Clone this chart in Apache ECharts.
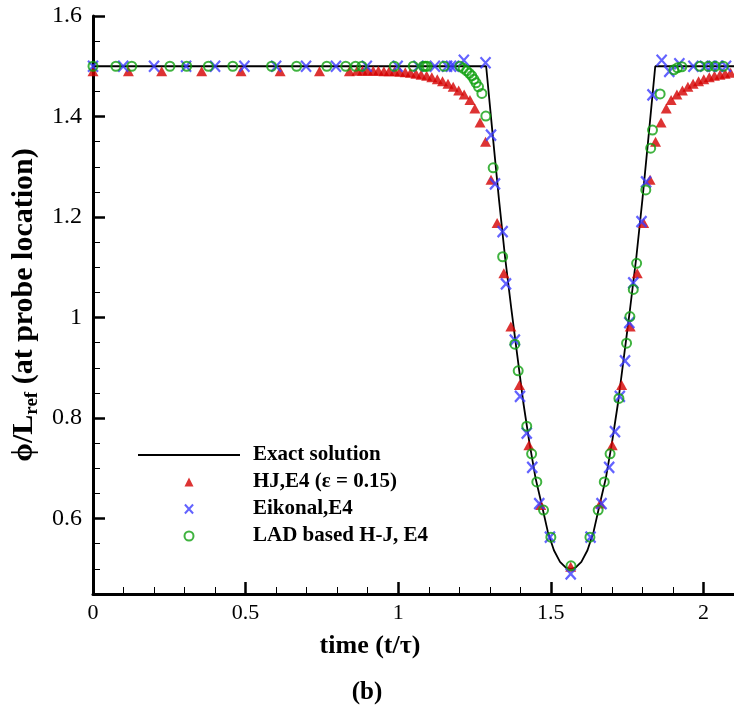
<!DOCTYPE html>
<html>
<head>
<meta charset="utf-8">
<script src="https://cdn.jsdelivr.net/npm/echarts@6/dist/echarts.min.js"></script>
<style>
html,body{margin:0;padding:0;background:#fff;}
#chart{width:734px;height:709px;}
</style>
</head>
<body>
<div id="chart"></div>
<script>
// ---- data ----
const xTickLabels = [0, 0.5, 1, 1.5, 2];
const yTickLabels = [0.6, 0.8, 1, 1.2, 1.4, 1.6];

const exactSolution = [
  [0,1.5],[1.288,1.5],[1.31,1.36],[1.33,1.235],[1.35,1.12],[1.37,1.02],[1.39,0.925],
  [1.41,0.83],[1.43,0.75],[1.45,0.68],[1.47,0.628],[1.49,0.574],[1.51,0.537],[1.53,0.514],
  [1.55,0.502],[1.565,0.5],[1.58,0.502],[1.60,0.514],[1.62,0.537],[1.64,0.574],[1.66,0.628],
  [1.68,0.68],[1.70,0.75],[1.72,0.83],[1.74,0.925],[1.76,1.02],[1.78,1.12],[1.80,1.235],
  [1.82,1.36],[1.842,1.5],[2.1,1.5]
];

const hjE4 = [
  [0,1.49],[0.116,1.49],[0.225,1.49],[0.356,1.49],[0.485,1.49],[0.613,1.49],[0.742,1.49],[0.84,1.49],
  [0.865,1.491],[0.883,1.491],[0.9,1.491],[0.918,1.491],[0.935,1.491],[0.953,1.49],[0.97,1.49],
  [0.988,1.49],[1.005,1.489],[1.023,1.488],[1.04,1.487],[1.058,1.485],[1.075,1.483],[1.093,1.481],
  [1.11,1.478],[1.128,1.474],[1.145,1.47],[1.163,1.465],[1.18,1.459],[1.198,1.452],[1.216,1.444],
  [1.235,1.433],[1.251,1.416],[1.268,1.388],[1.286,1.35],[1.304,1.274],[1.324,1.188],[1.346,1.088],
  [1.369,0.982],[1.397,0.866],[1.428,0.746],[1.467,0.627],[1.565,0.504],[1.662,0.63],[1.701,0.746],
  [1.732,0.866],[1.76,0.982],[1.783,1.088],[1.804,1.188],[1.825,1.274],[1.843,1.35],[1.861,1.388],
  [1.878,1.416],[1.894,1.433],[1.913,1.444],[1.931,1.452],[1.949,1.459],[1.966,1.465],[1.984,1.47],
  [2.001,1.474],[2.019,1.478],[2.036,1.481],[2.054,1.483],[2.071,1.485],[2.089,1.487]
];

const eikonalE4 = [
  [0,1.5],[0.099,1.5],[0.2,1.5],[0.305,1.5],[0.4,1.5],[0.496,1.5],[0.6,1.5],[0.698,1.5],[0.796,1.5],
  [0.897,1.5],[0.998,1.5],[1.066,1.5],[1.12,1.5],[1.16,1.5],[1.173,1.5],[1.183,1.5],[1.215,1.512],
  [1.286,1.507],[1.304,1.363],[1.317,1.266],[1.342,1.171],[1.353,1.067],[1.382,0.955],[1.399,0.843],
  [1.421,0.770],[1.439,0.702],[1.462,0.630],[1.497,0.563],[1.565,0.490],[1.630,0.563],[1.666,0.630],
  [1.691,0.702],[1.71,0.773],[1.726,0.843],[1.743,0.914],[1.757,0.99],[1.770,1.069],[1.797,1.191],
  [1.812,1.270],[1.833,1.443],[1.863,1.512],[1.888,1.49],[1.921,1.505],[1.967,1.5],[2.005,1.5],
  [2.027,1.5],[2.049,1.5],[2.074,1.5]
];

const ladE4 = [
  [0,1.5],[0.075,1.5],[0.127,1.5],[0.252,1.5],[0.307,1.5],[0.378,1.5],[0.458,1.5],[0.585,1.5],
  [0.667,1.5],[0.766,1.5],[0.828,1.5],[0.86,1.5],[0.881,1.5],[0.987,1.5],[1.049,1.5],[1.082,1.5],
  [1.089,1.5],[1.095,1.5],[1.15,1.5],[1.202,1.5],[1.213,1.496],[1.224,1.491],[1.233,1.486],
  [1.241,1.481],[1.248,1.474],[1.255,1.467],[1.263,1.459],[1.274,1.446],[1.287,1.401],[1.311,1.298],
  [1.342,1.121],[1.382,0.947],[1.393,0.894],[1.421,0.784],[1.437,0.729],[1.454,0.673],[1.476,0.617],
  [1.500,0.563],[1.566,0.506],[1.628,0.563],[1.655,0.617],[1.675,0.673],[1.694,0.729],[1.723,0.839],
  [1.748,0.949],[1.759,1.002],[1.770,1.056],[1.781,1.108],[1.811,1.254],[1.827,1.337],[1.833,1.373],
  [1.858,1.445],[1.903,1.493],[1.915,1.497],[1.929,1.499],[1.989,1.5],[2.016,1.5],[2.038,1.5],[2.065,1.5]
];

// ---- chart ----
const FONT = 'Liberation Serif';
const RED = '#d40000', BLUE = '#3c3cff', GREEN = '#10a010';
const TRI = 'path://M5,0L10,10L0,10Z';
const CROSS = 'path://M0,0L10,11M10,0L0,11';
const chart = echarts.init(document.getElementById('chart'), null, {renderer: 'canvas'});

const option = {
  backgroundColor: '#fff',
  animation: false,
  grid: {left: 93, right: 0, top: 16, bottom: 115, containLabel: false, outerBoundsMode: 'none'},
  title: [
    {text: 'time (t/τ)', left: 370, top: 633, textAlign: 'center', padding: 0,
     textStyle: {fontFamily: FONT, fontWeight: 'bold', fontSize: 26, color: '#000'}},
    {text: '(b)', left: 367, top: 680, textAlign: 'center', padding: 0,
     textStyle: {fontFamily: FONT, fontWeight: 'bold', fontSize: 25, color: '#000'}}
  ],
  legend: {
    orient: 'vertical', left: 133, top: 439,
    itemWidth: 102, itemHeight: 9, itemGap: 5,
    data: [
      {name: 'Exact solution', icon: 'path://M0,0L102,0L102,2L0,2Z', itemStyle: {color: '#000'}},
      {name: 'HJ,E4 (ε = 0.15)', icon: TRI},
      {name: 'Eikonal,E4', icon: CROSS},
      {name: 'LAD based H-J, E4'}
    ],
    textStyle: {fontFamily: FONT, fontWeight: 'bold', fontSize: 21, color: '#000',
                lineHeight: 22, padding: [0, 0, 0, 8]}
  },
  xAxis: [
    {type: 'value', min: 0, max: 2.1, position: 'bottom',
     axisLine: {show: true, lineStyle: {color: '#000', width: 3}},
     axisTick: {show: true, inside: true, length: 12, customValues: xTickLabels,
                lineStyle: {color: '#000', width: 2.5}},
     axisLabel: {show: true, customValues: xTickLabels, margin: 8,
                 fontFamily: FONT, fontSize: 22, color: '#000'},
     splitLine: {show: false}},
    {type: 'value', min: 0, max: 2.1, interval: 0.1, position: 'bottom',
     axisLine: {show: false},
     axisTick: {show: true, inside: true, length: 7, lineStyle: {color: '#000', width: 1}},
     axisLabel: {show: false}, splitLine: {show: false}}
  ],
  yAxis: [
    {type: 'value', min: 0.45, max: 1.6, position: 'left',
     name: '{a|ϕ/L}{s|ref}{a| (at probe location)}',
     nameLocation: 'middle', nameRotate: 90, nameGap: 48,
     nameTextStyle: {
       rich: {
         a: {fontFamily: FONT, fontWeight: 'bold', fontSize: 30, color: '#000', lineHeight: 34},
         s: {fontFamily: FONT, fontWeight: 'bold', fontSize: 19, color: '#000', lineHeight: 34,
             verticalAlign: 'bottom', padding: [12, 0, 0, 0]}
       }
     },
     axisLine: {show: true, lineStyle: {color: '#000', width: 3}},
     axisTick: {show: true, inside: true, length: 12, customValues: yTickLabels,
                lineStyle: {color: '#000', width: 2.5}},
     axisLabel: {show: true, customValues: yTickLabels, margin: 11,
                 fontFamily: FONT, fontSize: 24, color: '#000'},
     splitLine: {show: false}},
    {type: 'value', min: 0.45, max: 1.6, interval: 0.05, position: 'left',
     axisLine: {show: false},
     axisTick: {show: true, inside: true, length: 7, lineStyle: {color: '#000', width: 1}},
     axisLabel: {show: false}, splitLine: {show: false}}
  ],
  series: [
    {name: 'Exact solution', type: 'line', data: exactSolution, showSymbol: false, symbol: 'none',
     lineStyle: {color: '#000', width: 1.8}, itemStyle: {color: '#000'}, z: 2},
    {name: 'HJ,E4 (ε = 0.15)', type: 'scatter', data: hjE4, symbol: TRI, symbolSize: [11, 10],
     symbolKeepAspect: false, itemStyle: {color: RED}, z: 3},
    {name: 'Eikonal,E4', type: 'scatter', data: eikonalE4, symbol: CROSS, symbolSize: [10, 11],
     itemStyle: {color: 'rgba(0,0,0,0)', borderColor: BLUE, borderWidth: 2.3}, z: 4},
    {name: 'LAD based H-J, E4', type: 'scatter', data: ladE4, symbol: 'circle', symbolSize: 9,
     itemStyle: {color: 'rgba(0,0,0,0)', borderColor: GREEN, borderWidth: 2}, z: 5}
  ]
};
chart.setOption(option);
</script>
</body>
</html>
